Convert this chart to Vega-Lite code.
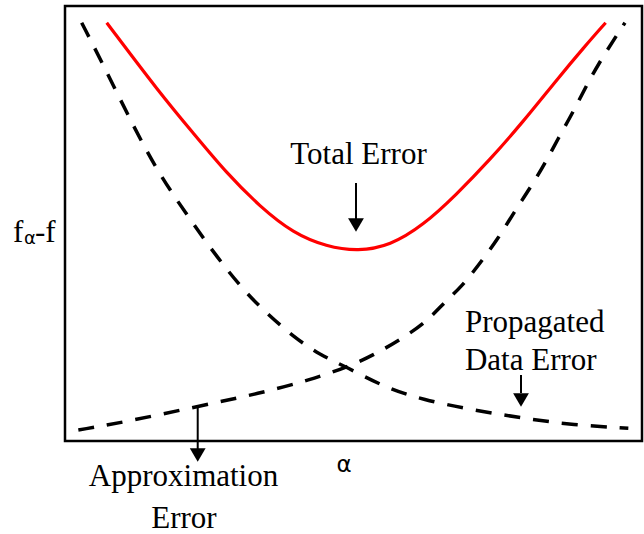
{
  "$schema": "https://vega.github.io/schema/vega-lite/v6.json",
  "width": 577,
  "height": 435,
  "autosize": "none",
  "padding": {"left": 65, "top": 6, "right": 2, "bottom": 93},
  "config": {"view": {"stroke": "black", "strokeWidth": 2.5}},
  "datasets": {
    "curves": [
      {"series": "Total Error", "a": 7.23, "e": 96.16},
      {"series": "Total Error", "a": 16.46, "e": 79.93},
      {"series": "Total Error", "a": 22.24, "e": 70.74},
      {"series": "Total Error", "a": 28.02, "e": 61.54},
      {"series": "Total Error", "a": 33.8, "e": 53.86},
      {"series": "Total Error", "a": 39.57, "e": 47.75},
      {"series": "Total Error", "a": 45.36, "e": 44.67},
      {"series": "Total Error", "a": 50.78, "e": 43.6},
      {"series": "Total Error", "a": 56.33, "e": 44.9},
      {"series": "Total Error", "a": 62.1, "e": 49.6},
      {"series": "Total Error", "a": 67.8, "e": 56.6},
      {"series": "Total Error", "a": 73.6, "e": 64.6},
      {"series": "Total Error", "a": 79.4, "e": 73.4},
      {"series": "Total Error", "a": 85.2, "e": 83.0},
      {"series": "Total Error", "a": 90.0, "e": 90.6},
      {"series": "Total Error", "a": 93.7, "e": 96.16},
      {"series": "Propagated Data Error", "a": 2.89, "e": 96.16},
      {"series": "Propagated Data Error", "a": 6.64, "e": 86.44},
      {"series": "Propagated Data Error", "a": 11.27, "e": 73.95},
      {"series": "Propagated Data Error", "a": 16.0, "e": 61.91},
      {"series": "Propagated Data Error", "a": 21.96, "e": 50.41},
      {"series": "Propagated Data Error", "a": 26.29, "e": 42.37},
      {"series": "Propagated Data Error", "a": 30.9, "e": 34.71},
      {"series": "Propagated Data Error", "a": 34.96, "e": 29.36},
      {"series": "Propagated Data Error", "a": 39.57, "e": 23.98},
      {"series": "Propagated Data Error", "a": 44.19, "e": 19.77},
      {"series": "Propagated Data Error", "a": 48.82, "e": 17.01},
      {"series": "Propagated Data Error", "a": 55.16, "e": 12.48},
      {"series": "Propagated Data Error", "a": 62.1, "e": 9.43},
      {"series": "Propagated Data Error", "a": 70.76, "e": 7.13},
      {"series": "Propagated Data Error", "a": 79.43, "e": 5.22},
      {"series": "Propagated Data Error", "a": 88.09, "e": 3.68},
      {"series": "Propagated Data Error", "a": 97.63, "e": 2.92},
      {"series": "Approximation Error", "a": 2.31, "e": 2.53},
      {"series": "Approximation Error", "a": 10.69, "e": 4.44},
      {"series": "Approximation Error", "a": 22.82, "e": 7.89},
      {"series": "Approximation Error", "a": 33.8, "e": 10.97},
      {"series": "Approximation Error", "a": 42.46, "e": 14.02},
      {"series": "Approximation Error", "a": 49.39, "e": 17.24},
      {"series": "Approximation Error", "a": 53.43, "e": 19.77},
      {"series": "Approximation Error", "a": 58.06, "e": 23.22},
      {"series": "Approximation Error", "a": 62.69, "e": 27.43},
      {"series": "Approximation Error", "a": 65.29, "e": 31.26},
      {"series": "Approximation Error", "a": 68.75, "e": 35.47},
      {"series": "Approximation Error", "a": 71.92, "e": 40.85},
      {"series": "Approximation Error", "a": 75.1, "e": 46.6},
      {"series": "Approximation Error", "a": 77.7, "e": 52.34},
      {"series": "Approximation Error", "a": 80.59, "e": 58.09},
      {"series": "Approximation Error", "a": 83.19, "e": 63.84},
      {"series": "Approximation Error", "a": 85.49, "e": 69.59},
      {"series": "Approximation Error", "a": 88.09, "e": 75.7},
      {"series": "Approximation Error", "a": 90.42, "e": 81.84},
      {"series": "Approximation Error", "a": 93.02, "e": 87.98},
      {"series": "Approximation Error", "a": 97.05, "e": 96.16}
    ],
    "labels": [
      {"label": "Total Error", "a": 50.87, "e": 63.68},
      {"label": "Approximation", "a": 20.54, "e": -10.34},
      {"label": "Error", "a": 20.62, "e": -20.0}
    ],
    "leftLabels": [
      {"label": "Propagated", "a": 69.32, "e": 25.13},
      {"label": "Data Error", "a": 69.32, "e": 16.32}
    ],
    "arrows": [
      {"name": "Total Error", "a": 50.43, "top": 59.31, "bottom": 50.8, "head": 49.66},
      {"name": "Propagated Data Error", "a": 79.03, "top": 15.17, "bottom": 11.03, "head": 9.43},
      {"name": "Approximation Error", "a": 23.0, "top": 7.82, "bottom": -2.07, "head": -3.22}
    ]
  },
  "encoding": {
    "x": {"type": "quantitative", "scale": {"domain": [0, 100], "nice": false, "zero": false}, "axis": null},
    "y": {"type": "quantitative", "scale": {"domain": [0, 100], "nice": false, "zero": false}, "axis": null}
  },
  "layer": [
    {
      "data": {"name": "curves"},
      "transform": [{"filter": "datum.series !== 'Total Error'"}],
      "mark": {"type": "line", "interpolate": "basis", "color": "black", "strokeWidth": 3.5, "strokeDash": [16, 13], "clip": false},
      "encoding": {"x": {"field": "a"}, "y": {"field": "e"}, "detail": {"field": "series"}}
    },
    {
      "data": {"name": "curves"},
      "transform": [{"filter": "datum.series === 'Total Error'"}],
      "mark": {"type": "line", "interpolate": "basis", "color": "#ff0000", "strokeWidth": 3.2, "clip": false},
      "encoding": {"x": {"field": "a"}, "y": {"field": "e"}}
    },
    {
      "data": {"name": "arrows"},
      "mark": {"type": "rule", "color": "black", "strokeWidth": 2, "clip": false},
      "encoding": {"x": {"field": "a"}, "y": {"field": "top"}, "y2": {"field": "bottom"}}
    },
    {
      "data": {"name": "arrows"},
      "mark": {"type": "point", "shape": "triangle-down", "filled": true, "color": "black", "opacity": 1, "size": 250, "clip": false},
      "encoding": {"x": {"field": "a"}, "y": {"field": "head"}}
    },
    {
      "data": {"name": "labels"},
      "mark": {"type": "text", "font": "Liberation Serif", "fontSize": 31, "align": "center", "baseline": "alphabetic", "color": "black", "clip": false},
      "encoding": {"x": {"field": "a"}, "y": {"field": "e"}, "text": {"field": "label"}}
    },
    {
      "data": {"name": "leftLabels"},
      "mark": {"type": "text", "font": "Liberation Serif", "fontSize": 31, "align": "left", "baseline": "alphabetic", "color": "black", "clip": false},
      "encoding": {"x": {"field": "a"}, "y": {"field": "e"}, "text": {"field": "label"}}
    },
    {
      "data": {"values": [{"label": "α", "a": 48.35, "e": -7.06}]},
      "mark": {"type": "text", "font": "DejaVu Sans", "fontSize": 23, "align": "center", "baseline": "alphabetic", "color": "black", "clip": false},
      "encoding": {"x": {"field": "a"}, "y": {"field": "e"}, "text": {"field": "label"}}
    },
    {
      "data": {"values": [{"label": "f", "a": -9.01, "e": 45.75}, {"label": "-f", "a": -5.2, "e": 45.75}]},
      "mark": {"type": "text", "font": "Liberation Serif", "fontSize": 31, "align": "left", "baseline": "alphabetic", "color": "black", "clip": false},
      "encoding": {"x": {"field": "a"}, "y": {"field": "e"}, "text": {"field": "label"}}
    },
    {
      "data": {"values": [{"label": "α", "a": -7.11, "e": 45.29}]},
      "mark": {"type": "text", "font": "DejaVu Sans", "fontSize": 18, "align": "left", "baseline": "alphabetic", "color": "black", "clip": false},
      "encoding": {"x": {"field": "a"}, "y": {"field": "e"}, "text": {"field": "label"}}
    }
  ]
}
